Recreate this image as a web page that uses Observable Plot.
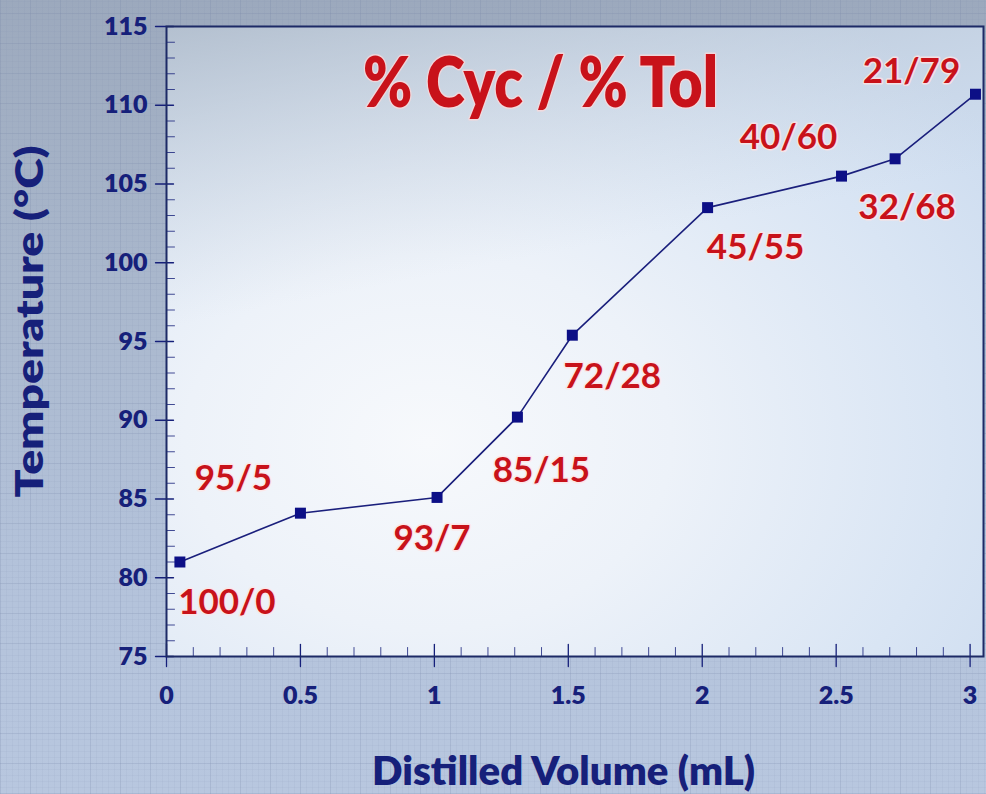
<!DOCTYPE html>
<html>
<head>
<meta charset="utf-8">
<script src="https://cdn.jsdelivr.net/npm/d3@7"></script>
<script src="https://cdn.jsdelivr.net/npm/@observablehq/plot@0.6"></script>
<style>
  html, body { margin: 0; padding: 0; }
  body {
    width: 986px; height: 794px; overflow: hidden;
    background-color: #aebcd3;
    background-image:
      repeating-linear-gradient(0deg, rgba(110,125,160,0.14) 0 1px, transparent 1px 30px),
      repeating-linear-gradient(90deg, rgba(110,125,160,0.14) 0 1px, transparent 1px 30px),
      repeating-linear-gradient(0deg, rgba(120,135,170,0.08) 0 1px, transparent 1px 6px),
      repeating-linear-gradient(90deg, rgba(120,135,170,0.08) 0 1px, transparent 1px 6px),
      linear-gradient(to bottom, #9ca9bd 0%, #a9b7cc 35%, #b3c2da 70%, #b8c7df 100%);
    font-family: Lato, "Open Sans", sans-serif;
  }
  #chart { position: absolute; left: 0; top: 0; }
</style>
</head>
<body>
<div id="chart"></div>
<script>
// ---- data ----
const volume = [0.05, 0.50, 1.01, 1.31, 1.515, 2.02, 2.52, 2.72, 3.02];
const temperature = [81.0, 84.1, 85.1, 90.2, 95.4, 103.5, 105.5, 106.6, 110.7];
const composition = ["100/0", "95/5", "93/7", "85/15", "72/28", "45/55", "40/60", "32/68", "21/79"];
const xTicks = [0, 0.5, 1, 1.5, 2, 2.5, 3];
const xTickLabels = ["0", "0.5", "1", "1.5", "2", "2.5", "3"];
const yTicks = [75, 80, 85, 90, 95, 100, 105, 110, 115];
const yTickLabels = ["75", "80", "85", "90", "95", "100", "105", "110", "115"];
const xMinor = d3.range(1, 31).map(i => i / 10).filter(v => Math.abs(v * 2 - Math.round(v * 2)) > 1e-6);
const yMinor = d3.range(76, 115).filter(v => v % 5 !== 0);
const title = "% Cyc / % Tol";
const xLabel = "Distilled Volume (mL)";
const yLabel = "Temperature (°C)";

// ---- layout (label offsets in px, relative to each point) ----
const labelOffsets = [[47, 41], [-67, -34], [-5, 41], [24, 54], [40, 42], [48, 40], [-53, -38], [12, 49], [-64, -22]];

const navy = "#16207a";
const red = "#c8121a";
const pts = volume.map((v, i) => ({v, t: temperature[i], label: composition[i], i}));

// plain line tick shape for vector marks
const tickShape = {draw(context, l) { context.moveTo(0, 0); context.lineTo(0, -l); }};

const defs = () => {
  const g = d3.create("svg:defs");
  const rg = g.append("radialGradient").attr("id", "plotbg")
    .attr("cx", 0.32).attr("cy", 0.66).attr("r", 0.85);
  rg.append("stop").attr("offset", 0).attr("stop-color", "#f7f9fc");
  rg.append("stop").attr("offset", 0.35).attr("stop-color", "#edf2f9");
  rg.append("stop").attr("offset", 0.75).attr("stop-color", "#d9e5f4");
  rg.append("stop").attr("offset", 1).attr("stop-color", "#cddcef");
  const lg = g.append("linearGradient").attr("id", "topshade")
    .attr("x1", 0).attr("y1", 0).attr("x2", 0.25).attr("y2", 1);
  lg.append("stop").attr("offset", 0).attr("stop-color", "#a9b5c4").attr("stop-opacity", 0.75);
  lg.append("stop").attr("offset", 0.45).attr("stop-color", "#c5cfdb").attr("stop-opacity", 0.0);
  lg.append("stop").attr("offset", 1).attr("stop-color", "#c5cfdb").attr("stop-opacity", 0.0);
  return g.node();
};

const labelMarks = pts.map((p, k) => Plot.text([p], {
  x: "v", y: "t", text: "label",
  dx: labelOffsets[k][0], dy: labelOffsets[k][1],
  fill: red, stroke: "#ffe4e4", strokeWidth: 3, strokeOpacity: 0.8,
  fontSize: 35, fontWeight: 700
}));

const plot = Plot.plot({
  width: 986,
  height: 794,
  marginLeft: 166,
  marginRight: 3,
  marginTop: 26,
  marginBottom: 138,
  x: {domain: [0, 3.05]},
  y: {domain: [75, 115]},
  style: {background: "transparent", fontFamily: "Lato, 'Open Sans', sans-serif", overflow: "visible"},
  marks: [
    defs,
    Plot.frame({fill: "url(#plotbg)", stroke: null}),
    Plot.frame({fill: "url(#topshade)", stroke: null}),
    // minor ticks
    Plot.vector(yMinor, {y: d => d, frameAnchor: "left", length: 8, rotate: 90, anchor: "start", shape: tickShape, stroke: navy, strokeWidth: 1, strokeOpacity: 0.8}),
    Plot.vector(xMinor, {x: d => d, frameAnchor: "bottom", length: 9, rotate: 0, anchor: "start", shape: tickShape, stroke: navy, strokeWidth: 1, strokeOpacity: 0.8}),
    // major ticks (crossing the axis)
    Plot.vector(yTicks, {y: d => d, frameAnchor: "left", dx: -11, length: 18, rotate: 90, anchor: "start", shape: tickShape, stroke: navy, strokeWidth: 1.3}),
    Plot.vector(xTicks, {x: d => d, frameAnchor: "bottom", dy: 10, length: 22, rotate: 0, anchor: "start", shape: tickShape, stroke: navy, strokeWidth: 1.3}),
    Plot.frame({stroke: "#1d2a66", strokeWidth: 2}),
    Plot.axisX({ticks: xTicks, tickFormat: (d, i) => xTickLabels[i], tickSize: 0, tickPadding: 30, label: null,
      fontSize: 25, fontWeight: 800, fill: navy}),
    Plot.axisY({ticks: yTicks, tickFormat: (d, i) => yTickLabels[i], tickSize: 0, tickPadding: 19, label: null,
      fontSize: 25, fontWeight: 800, fill: navy}),
    Plot.line(pts, {x: "v", y: "t", stroke: "#1a1f7c", strokeWidth: 1.6}),
    Plot.dot(pts, {x: "v", y: "t", symbol: "square", r: 6.2, fill: "#0c0f86", stroke: null}),
    ...labelMarks,
    Plot.text([title], {frameAnchor: "top", lineAnchor: "middle", textAnchor: "middle", dx: -34.5, dy: 58, fontSize: 70, fontWeight: 800,
      fill: red, stroke: "#ffd8d8", strokeWidth: 3, strokeOpacity: 0.7}),
    Plot.text([xLabel], {frameAnchor: "bottom", lineAnchor: "middle", textAnchor: "middle", dx: -11.5, dy: 116, fontSize: 40, fontWeight: 800, fill: navy}),
    Plot.text([yLabel], {frameAnchor: "left", lineAnchor: "middle", textAnchor: "middle", dx: -136, dy: -20, rotate: -90, fontSize: 38, fontWeight: 800, fill: navy})
  ]
});

d3.select(plot).selectAll("text").each(function() {
  const t = this.textContent;
  const target = t === title ? 355 : t === xLabel ? 383 : t === yLabel ? 352 : null;
  if (target) {
    this.setAttribute("textLength", target);
    this.setAttribute("lengthAdjust", "spacingAndGlyphs");
  }
});

document.getElementById("chart").appendChild(plot);
</script>
</body>
</html>
